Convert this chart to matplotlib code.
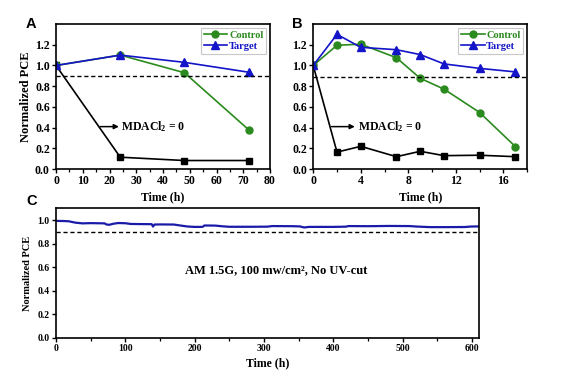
import matplotlib
matplotlib.use("Agg")
import matplotlib.pyplot as plt  # noqa: E402
from matplotlib.ticker import MultipleLocator  # noqa: E402

# panel A: 0 - 72 h
a_time = [0, 24, 48, 72]
a_control = [1.0, 1.10, 0.93, 0.38]
a_target = [1.0, 1.10, 1.03, 0.935]
a_bare = [1.0, 0.115, 0.083, 0.083]

# panel B: 0 - 17 h
b_time = [0, 2, 4, 7, 9, 11, 14, 17]
b_control = [1.0, 1.195, 1.205, 1.075, 0.876, 0.772, 0.546, 0.218]
b_target = [1.0, 1.30, 1.175, 1.152, 1.105, 1.015, 0.972, 0.938]
b_bare = [1.0, 0.164, 0.22, 0.12, 0.172, 0.13, 0.134, 0.12]

# panel C: long-term tracking under AM 1.5G
c_time = [0, 10, 18, 28, 38, 50, 70, 73, 77, 82, 90, 100, 108, 120, 138, 140,
          142, 150, 170, 178, 190, 200, 210, 212, 214, 230, 240, 250, 280, 305,
          312, 340, 352, 358, 365, 400, 418, 422, 450, 480, 510, 520, 540, 560,
          590, 598, 610]
c_pce = [0.993, 0.992, 0.99, 0.978, 0.972, 0.974, 0.972, 0.962, 0.96, 0.968,
         0.975, 0.973, 0.967, 0.966, 0.965, 0.945, 0.962, 0.963, 0.962, 0.955,
         0.945, 0.942, 0.942, 0.944, 0.954, 0.953, 0.947, 0.943, 0.943, 0.944,
         0.949, 0.948, 0.946, 0.937, 0.942, 0.942, 0.944, 0.949, 0.948, 0.95,
         0.949, 0.945, 0.94, 0.94, 0.941, 0.945, 0.946]

GREEN = "#2b8a1e"
BLUE = "#1414c8"
SERIF = "Liberation Serif"

plt.rcParams["font.family"] = SERIF
plt.rcParams["font.weight"] = "bold"
plt.rcParams["axes.linewidth"] = 1.2
plt.rcParams["mathtext.fontset"] = "custom"
plt.rcParams["mathtext.rm"] = "Liberation Serif:bold"
plt.rcParams["mathtext.bf"] = "Liberation Serif:bold"
plt.rcParams["mathtext.it"] = "Liberation Serif:bold:italic"

fig = plt.figure(figsize=(5.8, 3.75), dpi=100)
ax_a = fig.add_axes([0.0966, 0.549, 0.369, 0.387])
ax_b = fig.add_axes([0.540, 0.549, 0.369, 0.387])
ax_c = fig.add_axes([0.0966, 0.0995, 0.729, 0.345])


def short_panel(ax, t, control, target, bare, thr, xmax, xmajor, xminor, arrow):
    ax.plot(t, bare, "-s", color="black", ms=4.5, lw=1.2)
    ax.plot(t, control, "-o", color=GREEN, ms=5, lw=1.2, label="Control")
    ax.plot(t, target, "-^", color=BLUE, ms=5.5, lw=1.2, label="Target")
    ax.axhline(thr, ls="--", color="black", lw=1.0, dashes=(3, 2))
    ax.set_xlim(0, xmax)
    ax.set_ylim(0, 1.4)
    ax.xaxis.set_major_locator(MultipleLocator(xmajor))
    ax.xaxis.set_minor_locator(MultipleLocator(xminor))
    ax.set_yticks([0, 0.2, 0.4, 0.6, 0.8, 1.0, 1.2])
    ax.yaxis.set_major_formatter(lambda v, _: f"{v:.1f}")
    ax.tick_params(direction="out", length=3, width=1.0, labelsize=8.5, pad=1.5)
    ax.tick_params(which="minor", direction="out", length=1.8, width=0.9)
    ax.set_xlabel("Time (h)", fontsize=8.5, fontweight="bold", labelpad=3)
    ax.set_ylabel("Normalized PCE", fontsize=9, fontweight="bold", labelpad=2)
    (x0, x1, y0) = arrow
    ax.annotate("", xy=(x1, y0), xytext=(x0, y0),
                arrowprops=dict(arrowstyle="-|>", color="black", lw=1.1,
                                mutation_scale=7, shrinkA=0, shrinkB=0))
    ax.text(x1 + (x1 - x0) * 0.12, y0, r"MDACl$_2$ = 0", fontsize=8.5,
            fontweight="bold", va="center", ha="left")
    leg = ax.legend(loc="upper right", fontsize=7.5, handlelength=2.3,
                    borderpad=0.25, labelspacing=0.15, handletextpad=0.15,
                    borderaxespad=0.4, fancybox=False, framealpha=1,
                    edgecolor="#c8c8c8")
    leg.get_frame().set_linewidth(0.8)
    for txt, col in zip(leg.get_texts(), [GREEN, BLUE]):
        txt.set_color(col)


short_panel(ax_a, a_time, a_control, a_target, a_bare, 0.9, 80, 10, 5,
            (16.5, 23.5, 0.41))
short_panel(ax_b, b_time, b_control, b_target, b_bare, 0.89, 18, 4, 2,
            (1.55, 3.5, 0.41))
ax_b.set_ylabel("")

ax_c.plot(c_time, c_pce, color="#1a1aa8", lw=1.6)
ax_c.axhline(0.9, ls="--", color="black", lw=1.0, dashes=(3, 2))
ax_c.set_xlim(0, 610)
ax_c.set_ylim(0, 1.1)
ax_c.xaxis.set_major_locator(MultipleLocator(100))
ax_c.xaxis.set_minor_locator(MultipleLocator(50))
ax_c.set_yticks([0, 0.2, 0.4, 0.6, 0.8, 1.0])
ax_c.yaxis.set_major_formatter(lambda v, _: f"{v:.1f}")
ax_c.tick_params(direction="out", length=3, width=1.0, labelsize=7, pad=1.5)
ax_c.tick_params(which="minor", direction="out", length=1.8, width=0.9)
ax_c.set_xlabel("Time (h)", fontsize=8.5, fontweight="bold", labelpad=3)
ax_c.set_ylabel("Normalized PCE", fontsize=7.5, fontweight="bold", labelpad=4)
ax_c.text(318, 0.57, "AM 1.5G, 100 mw/cm², No UV-cut", fontsize=9,
          fontweight="bold", ha="center", va="center")

for label, x, y in [("A", 0.045, 0.935), ("B", 0.503, 0.935), ("C", 0.045, 0.463)]:
    fig.text(x, y, label, fontsize=10.5, fontweight="bold",
             family="Liberation Sans", ha="left", va="center")

fig.savefig("out.png", dpi=100)
